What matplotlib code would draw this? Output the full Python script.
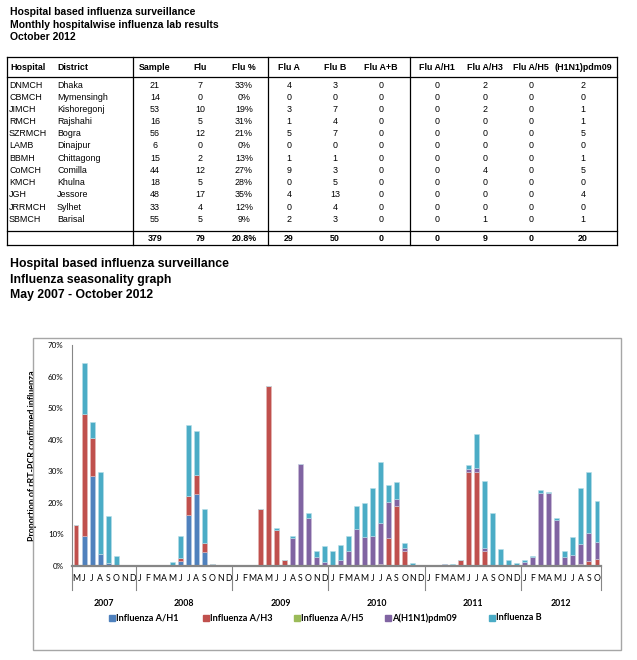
import matplotlib
matplotlib.use("Agg")
import matplotlib.pyplot as plt
import numpy as np
from matplotlib.lines import Line2D
from matplotlib.patches import Rectangle

W, H = 637, 660

# ---------------- table data ----------------
hospitals = ["DNMCH", "CBMCH", "JIMCH", "RMCH", "SZRMCH", "LAMB", "BBMH", "CoMCH", "KMCH", "JGH", "JRRMCH", "SBMCH"]
districts = ["Dhaka", "Mymensingh", "Kishoregonj", "Rajshahi", "Bogra", "Dinajpur", "Chittagong", "Comilla", "Khulna", "Jessore", "Sylhet", "Barisal"]
sample = [21, 14, 53, 16, 56, 6, 15, 44, 18, 48, 33, 55]
flu = [7, 0, 10, 5, 12, 0, 2, 12, 5, 17, 4, 5]
flu_pct = ["33%", "0%", "19%", "31%", "21%", "0%", "13%", "27%", "28%", "35%", "12%", "9%"]
flu_a = [4, 0, 3, 1, 5, 0, 1, 9, 0, 4, 0, 2]
flu_b = [3, 0, 7, 4, 7, 0, 1, 3, 5, 13, 4, 3]
flu_ab = [0] * 12
flu_h1 = [0] * 12
flu_h3 = [2, 0, 2, 0, 0, 0, 0, 4, 0, 0, 0, 1]
flu_h5 = [0] * 12
flu_pdm = [2, 0, 1, 1, 5, 0, 1, 5, 0, 4, 0, 1]
totals = ["379", "79", "20.8%", "29", "50", "0", "0", "9", "0", "20"]
headers = ["Sample", "Flu", "Flu %", "Flu A", "Flu B", "Flu A+B", "Flu A/H1", "Flu A/H3", "Flu A/H5", "(H1N1)pdm09"]

# ---------------- chart data (% of samples), May 2007 - Oct 2012 ----------------
years = ["2007", "2008", "2009", "2010", "2011", "2012"]
month_letters_2007 = ["M", "J", "J", "A", "S", "O", "N", "D"]
month_letters = ["J", "F", "M", "A", "M", "J", "J", "A", "S", "O", "N", "D"]

h1 = [0, 9.5, 28.5, 3.7, 1.0, 0, 0, 0,
      0, 0, 0, 0, 0, 1.7, 16.1, 22.8, 4.3, 0.5, 0, 0,
      0, 0, 0, 0, 0, 0, 0, 0, 0, 0, 0, 0.4,
      0, 0, 0, 0, 0, 0, 0, 0, 0, 0, 0, 0,
      0, 0, 0, 0, 0, 0, 0, 0, 0, 0, 0, 0,
      0, 0, 0, 0, 0, 0, 0, 0, 0, 0]
h3 = [13.0, 38.7, 11.9, 0, 0, 0, 0, 0,
      0, 0, 0, 0, 0, 0.7, 6.1, 6.1, 3.1, 0, 0.4, 0,
      0, 0, 0.4, 18.0, 56.9, 11.3, 1.9, 0, 0.3, 0.3, 0, 0,
      0, 0, 0, 0, 0, 0, 0.7, 8.9, 18.9, 4.7, 0, 0,
      0, 0, 0, 0, 1.9, 29.9, 29.9, 4.8, 0, 0, 0, 0,
      0, 0, 0, 0, 0, 0, 0, 0.5, 1.5, 2.1]
h5 = [0] * 66
pdm = [0, 0, 0, 0, 0, 0, 0, 0,
       0, 0, 0, 0, 0, 0, 0, 0, 0, 0, 0, 0,
       0, 0, 0, 0, 0, 0, 0, 8.9, 32.1, 15.0, 2.9, 0.9,
       0, 2.0, 4.8, 11.8, 9.1, 9.4, 13.0, 11.5, 2.4, 0.9, 0, 0,
       0, 0, 0.6, 0, 0, 0.9, 1.0, 1.0, 0, 0, 0, 0,
       1.2, 2.9, 23.2, 23.1, 14.5, 2.9, 3.5, 6.4, 8.8, 5.4]
fb = [0, 16.2, 5.3, 26.2, 14.8, 3.1, 0, 0,
      0, 0, 0, 0, 1.4, 7.0, 22.4, 13.8, 10.6, 0, 0, 0,
      0, 0, 0, 0, 0, 0.6, 0, 0.5, 0, 1.5, 2.0, 5.1,
      4.8, 4.8, 4.8, 7.2, 10.8, 15.2, 19.1, 5.1, 5.2, 1.8, 1.1, 0,
      0, 0, 0, 0.7, 0, 1.1, 11.0, 21.1, 16.9, 5.4, 1.9, 1.0,
      0.7, 0.3, 0.8, 0.3, 0.7, 2.0, 5.8, 17.7, 19.6, 13.2]
series_names = ["Influenza A/H1", "Influenza A/H3", "Influenza A/H5", "A(H1N1)pdm09", "Influenza B"]
colors = ["#4F81BD", "#C0504D", "#9BBB59", "#8064A2", "#4BACC6"]
edge_colors = ["#B9CDE5", "#E6B9B8", "#D7E4BD", "#CCC1DA", "#B7DEE8"]

# ---------------- figure ----------------
fig = plt.figure(figsize=(W / 100, H / 100), dpi=100)

def fx(x):
    return x / W

def fy(y):
    return 1 - y / H

TF = "Liberation Sans"
CF = "Lato"

# titles
for i, t in enumerate(["Hospital based influenza surveillance", "Monthly hospitalwise influenza lab results", "October 2012"]):
    fig.text(fx(10), fy(12 + 12.5 * i), t, fontsize=7.5, fontweight="bold", family=TF, va="center", ha="left")
for i, t in enumerate(["Hospital based influenza surveillance", "Influenza seasonality graph", "May 2007 - October 2012"]):
    fig.text(fx(10), fy(264 + 15.5 * i), t, fontsize=8.8, fontweight="bold", family=TF, va="center", ha="left")

# table lines
def hline(y, x0, x1, lw=0.9):
    fig.add_artist(Line2D([fx(x0), fx(x1)], [fy(y), fy(y)], color="black", lw=lw))

def vline(x, y0, y1, lw=0.9):
    fig.add_artist(Line2D([fx(x), fx(x)], [fy(y0), fy(y1)], color="black", lw=lw))

for y in [57, 77, 231, 245]:
    hline(y, 7, 617)
for x in [7, 133, 268, 410, 617]:
    vline(x, 57, 245)

col_x = [155, 200, 244, 289, 335, 381, 437, 485, 531, 583]
fs_t = 6.4
fig.text(fx(10), fy(67), "Hospital", fontsize=fs_t, fontweight="bold", family=TF, va="center")
fig.text(fx(57), fy(67), "District", fontsize=fs_t, fontweight="bold", family=TF, va="center")
for cx, h in zip(col_x, headers):
    fig.text(fx(cx), fy(67), h, fontsize=fs_t, fontweight="bold", family=TF, va="center", ha="center")

cols = [sample, flu, flu_pct, flu_a, flu_b, flu_ab, flu_h1, flu_h3, flu_h5, flu_pdm]
for r in range(len(hospitals)):
    y = 85 + 12.2 * r
    fig.text(fx(9), fy(y), hospitals[r], fontsize=fs_t, family=TF, va="center")
    fig.text(fx(57), fy(y), districts[r], fontsize=fs_t, family=TF, va="center")
    for cx, c in zip(col_x, cols):
        fig.text(fx(cx), fy(y), str(c[r]), fontsize=fs_t, family=TF, va="center", ha="center")
for cx, t in zip(col_x, totals):
    fig.text(fx(cx), fy(238.5), t, fontsize=fs_t, fontweight="bold", family=TF, va="center", ha="center")

# chart border
fig.add_artist(Rectangle((fx(33), fy(650)), fx(621) - fx(33), fy(338) - fy(650),
                         fill=False, edgecolor="#A6A6A6", lw=1.0))

# axes
ax_l, ax_r, ax_t, ax_b = 72, 601, 345, 566
ax = fig.add_axes([fx(ax_l), fy(ax_b), fx(ax_r) - fx(ax_l), fy(ax_t) - fy(ax_b)])
n = len(fb)
x = np.arange(n)
bottom = np.zeros(n)
for name, vals, c, ec in zip(series_names, [h1, h3, h5, pdm, fb], colors, edge_colors):
    v = np.array(vals) / 100.0
    ax.bar(x, v, width=0.62, bottom=bottom, color=c, edgecolor=ec, linewidth=0.4, label=name)
    bottom += v

ax.set_xlim(-0.5, n - 0.5)
ax.set_ylim(0, 0.70)
ax.set_yticks(np.arange(0, 0.71, 0.10))
ax.set_yticklabels([f"{int(round(t * 100))}%" for t in np.arange(0, 0.71, 0.10)], fontsize=5.8, family=CF)
ax.set_xticks([])
for s in ["top", "right"]:
    ax.spines[s].set_visible(False)
ax.spines["left"].set_color("#868686")
ax.spines["left"].set_linewidth(0.8)
ax.spines["bottom"].set_color("#868686")
ax.spines["bottom"].set_linewidth(1.6)
ax.tick_params(axis="y", length=0, pad=6, colors="black")
ax.set_ylabel("Proportion of rRT-PCR confirmed influenza", fontsize=6.4, fontweight="bold", family=CF)
ax.yaxis.set_label_coords((37 - ax_l) / (ax_r - ax_l), 0.5)

# month labels, year separators and year labels
labels = month_letters_2007 + month_letters * 4 + month_letters[:10]
trans = ax.get_xaxis_transform()
for i, lab in enumerate(labels):
    ax.text(i, -0.055, lab, transform=trans, ha="center", va="center", fontsize=6.3, family=CF)
year_starts = [0, 8, 20, 32, 44, 56]
year_ends = [8, 20, 32, 44, 56, 66]
sep_depth = (590 - 566) / (566 - 345)
for b in year_starts + [66]:
    ax.add_artist(Line2D([b - 0.5, b - 0.5], [0, -sep_depth], transform=trans, color="#868686", lw=0.8, clip_on=False))
year_y = -(603 - 566) / (566 - 345)
for yr, s, e in zip(years, year_starts, year_ends):
    ax.text((s + e - 1) / 2, year_y, yr, transform=trans, ha="center", va="center", fontsize=6.3, fontweight="bold", family=CF)

# legend
leg_x = [109, 203, 294, 385, 489]
for lx, name, c in zip(leg_x, series_names, colors):
    fig.add_artist(Rectangle((fx(lx), fy(621)), fx(6) - fx(0), fy(615) - fy(621), color=c))
    fig.text(fx(lx + 7), fy(618), name, fontsize=6.6, fontweight="bold", family=CF, va="center", ha="left")

fig.savefig("out.png", dpi=100)
